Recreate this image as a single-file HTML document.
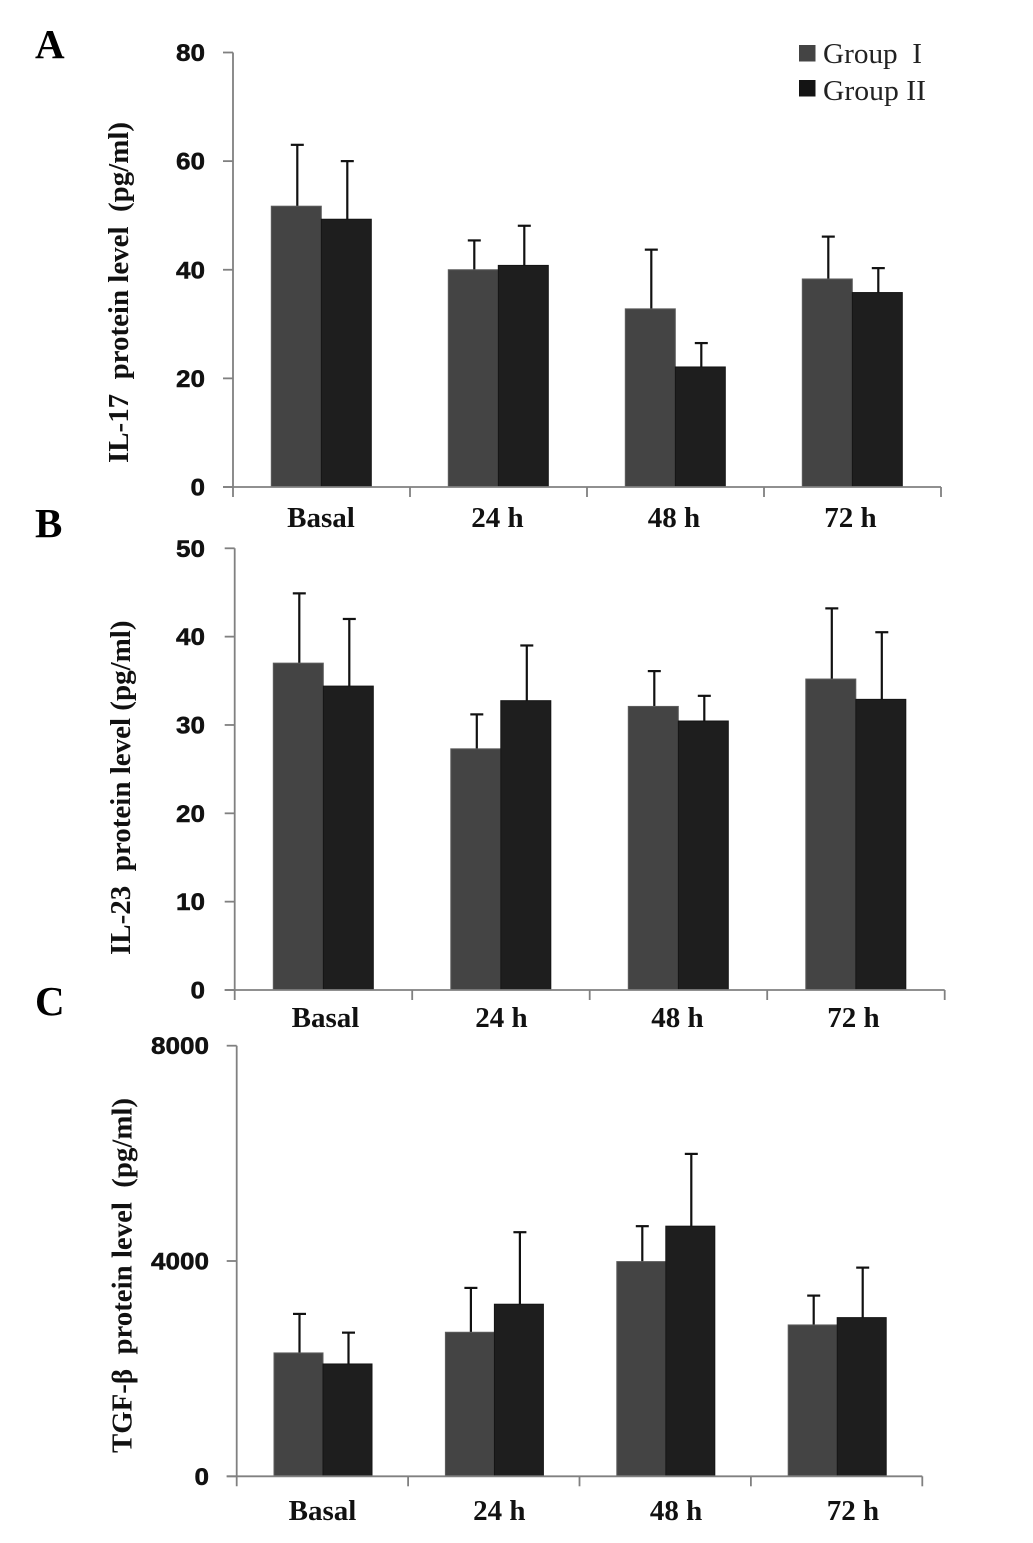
<!DOCTYPE html>
<html>
<head>
<meta charset="utf-8">
<title>Cytokine protein levels by group</title>
<style>
html,body{margin:0;padding:0;background:#fff;width:1033px;height:1543px;overflow:hidden}
svg{display:block;filter:blur(0.35px)}
text{white-space:pre}
.serif{font-family:"Liberation Serif",serif}
.sans{font-family:"Liberation Sans",sans-serif}
</style>
</head>
<body>
<svg id="figure" xmlns="http://www.w3.org/2000/svg" width="1033" height="1543" viewBox="0 0 1033 1543">
  <rect x="0" y="0" width="1033" height="1543" fill="#ffffff"/>
  <text class="serif" x="35" y="58" font-size="41" font-weight="700" fill="#000">A</text>
  <text class="serif" x="35" y="537" font-size="41" font-weight="700" fill="#000">B</text>
  <text class="serif" x="35" y="1015" font-size="41" font-weight="700" fill="#000">C</text>
  <g id="panel-a"></g>
  <g id="panel-b"></g>
  <g id="panel-c"></g>
  <g>
    <rect x="799" y="45" width="16.5" height="16.5" fill="#444444"/>
    <text class="serif" x="823" y="63" font-size="28" fill="#222" textLength="99" lengthAdjust="spacingAndGlyphs">Group  I</text>
    <rect x="799" y="80" width="16.5" height="16.5" fill="#141414"/>
    <text class="serif" x="823" y="100" font-size="28" fill="#222" textLength="103" lengthAdjust="spacingAndGlyphs">Group II</text>
  </g>
</svg>
<script>
const categories = ['Basal', '24 h', '48 h', '72 h'];

const il17Ticks = [0, 20, 40, 60, 80];
const il17Group1 = [51.7, 40, 32.8, 38.3];
const il17Group1Err = [11.3, 5.4, 10.9, 7.8];
const il17Group2 = [49.3, 40.8, 22.1, 35.8];
const il17Group2Err = [10.7, 7.3, 4.4, 4.5];

const il23Ticks = [0, 10, 20, 30, 40, 50];
const il23Group1 = [37, 27.3, 32.1, 35.2];
const il23Group1Err = [7.9, 3.9, 4, 8];
const il23Group2 = [34.4, 32.75, 30.45, 32.9];
const il23Group2Err = [7.6, 6.25, 2.85, 7.6];

const tgfTicks = [0, 4000, 8000];
const tgfGroup1 = [2292, 2676, 3989, 2812];
const tgfGroup1Err = [725, 824, 658, 545];
const tgfGroup2 = [2087, 3197, 4647, 2948];
const tgfGroup2Err = [582, 1338, 1343, 929];

const NS = 'http://www.w3.org/2000/svg';

function make(parent, tag, attrs, content) {
  const el = document.createElementNS(NS, tag);
  for (const key in attrs) el.setAttribute(key, attrs[key]);
  if (content !== undefined) el.textContent = content;
  parent.appendChild(el);
  return el;
}

function drawPanel(cfg) {
  const root = document.getElementById(cfg.id);
  const yScale = v => cfg.y0 - (v / cfg.max) * (cfg.y0 - cfg.yTop);
  const bandX = i => cfg.x0 + i * cfg.step;
  const barX = (i, s) => bandX(i) + cfg.inset + s * cfg.barW;

  const series = [
    { vals: cfg.g1, errs: cfg.e1, fill: '#444444', edge: '#5c5c5c', key: 'group-1' },
    { vals: cfg.g2, errs: cfg.e2, fill: '#1e1e1e', edge: '#141414', key: 'group-2' }
  ];

  series.forEach((s, si) => {
    s.vals.forEach((v, i) => {
      const cx = barX(i, si) + cfg.barW / 2 + 1;
      const top = yScale(v + s.errs[i]);
      const stem = make(root, 'line', { x1: cx, x2: cx, y1: yScale(v), y2: top, stroke: '#111', 'stroke-width': 2.2 });
      
      
      const cap = make(root, 'line', { x1: cx - 6.5, x2: cx + 6.5, y1: top, y2: top, stroke: '#111', 'stroke-width': 2.2 });
      
      
    });
  });

  series.forEach((s, si) => {
    s.vals.forEach((v, i) => {
      const bar = make(root, 'rect', {
        x: barX(i, si), y: yScale(v), width: cfg.barW, height: cfg.y0 - yScale(v),
        fill: s.fill, stroke: s.edge, 'stroke-width': 1
      });
      
      
    });
  });

  const yAxis = make(root, 'line', { x1: cfg.x0, x2: cfg.x0, y1: cfg.yTop, y2: cfg.y0 + 10, stroke: '#808080', 'stroke-width': 1.8 });
  
  
  const xAxis = make(root, 'line', { x1: cfg.x0 - 10, x2: bandX(categories.length), y1: cfg.y0, y2: cfg.y0, stroke: '#808080', 'stroke-width': 1.8 });
  
  

  cfg.ticks.forEach(t => {
    const y = yScale(t);
    const tick = make(root, 'line', { x1: cfg.x0 - 10, x2: cfg.x0, y1: y, y2: y, stroke: '#808080', 'stroke-width': 1.8 });
    
    
    const label = String(t);
    const tickLabel = make(root, 'text', {
      class: 'sans', x: cfg.labelRight, y: y + 8.5, 'text-anchor': 'end',
      'font-size': 24, 'font-weight': 700, fill: '#111', stroke: '#111', 'stroke-width': 0.5,
      textLength: 14.5 * label.length, lengthAdjust: 'spacingAndGlyphs'
    }, label);
    
    
  });

  for (let i = 1; i <= categories.length; i++) {
    const tick = make(root, 'line', { x1: bandX(i), x2: bandX(i), y1: cfg.y0, y2: cfg.y0 + 10, stroke: '#808080', 'stroke-width': 1.8 });
    
    
  }

  categories.forEach((c, i) => {
    const catLabel = make(root, 'text', {
      class: 'serif', x: cfg.catStart + i * cfg.catStep, y: cfg.catY, 'text-anchor': 'middle',
      'font-size': 29, 'font-weight': 700, fill: '#111'
    }, c);
    
    
  });

  const midY = (cfg.titleTop + cfg.titleBottom) / 2;
  const title = make(root, 'text', {
    class: 'serif', x: 0, y: 0, 'text-anchor': 'middle',
    transform: 'translate(' + cfg.titleX + ',' + midY + ') rotate(-90)',
    'font-size': 29, 'font-weight': 700, fill: '#111',
    textLength: cfg.titleBottom - cfg.titleTop, lengthAdjust: 'spacingAndGlyphs'
  }, cfg.title);
  
  
}

drawPanel({
  id: 'panel-a', x0: 233, step: 177, inset: 38.3, barW: 50, y0: 487, yTop: 52.5, max: 80,
  ticks: il17Ticks, g1: il17Group1, e1: il17Group1Err, g2: il17Group2, e2: il17Group2Err,
  labelRight: 205, catStart: 321, catStep: 176.5, catY: 527,
  title: 'IL-17  protein level  (pg/ml)', titleX: 128, titleTop: 122, titleBottom: 463
});
drawPanel({
  id: 'panel-b', x0: 234.7, step: 177.5, inset: 38.6, barW: 50, y0: 990, yTop: 548.3, max: 50,
  ticks: il23Ticks, g1: il23Group1, e1: il23Group1Err, g2: il23Group2, e2: il23Group2Err,
  labelRight: 205, catStart: 325.5, catStep: 176, catY: 1027,
  title: 'IL-23  protein level (pg/ml)', titleX: 130, titleTop: 620.5, titleBottom: 955
});
drawPanel({
  id: 'panel-c', x0: 236.7, step: 171.4, inset: 37.3, barW: 49, y0: 1476.3, yTop: 1045.7, max: 8000,
  ticks: tgfTicks, g1: tgfGroup1, e1: tgfGroup1Err, g2: tgfGroup2, e2: tgfGroup2Err,
  labelRight: 209, catStart: 322.5, catStep: 176.8, catY: 1520,
  title: 'TGF-β  protein level  (pg/ml)', titleX: 131.5, titleTop: 1098, titleBottom: 1453
});
</script>
</body>
</html>
